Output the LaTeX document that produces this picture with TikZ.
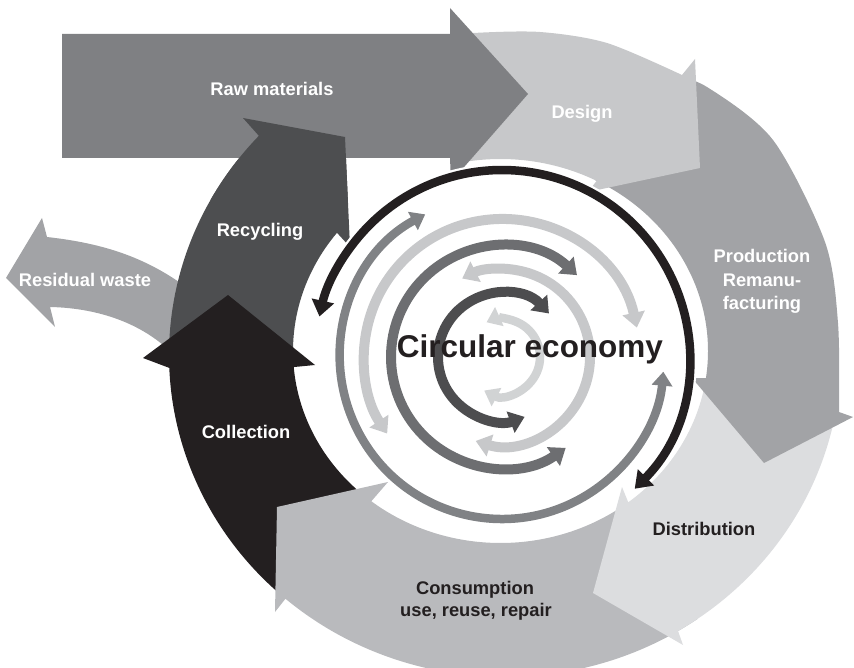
\documentclass[tikz,border=0pt]{standalone}
\usepackage{fontspec}
\setmainfont{Liberation Sans}
\usetikzlibrary{arrows.meta,calc}
\definecolor{cRaw}{HTML}{7F8083}
\definecolor{cDesign}{HTML}{C7C8CA}
\definecolor{cProd}{HTML}{A2A3A6}
\definecolor{cDist}{HTML}{DCDDDF}
\definecolor{cCons}{HTML}{B9BABD}
\definecolor{cColl}{HTML}{231F20}
\definecolor{cRecy}{HTML}{4D4E50}
\definecolor{cResid}{HTML}{A2A3A6}
\definecolor{cDark}{HTML}{231F20}
\definecolor{cA}{HTML}{D1D3D4}
\definecolor{cB}{HTML}{4D4D4F}
\definecolor{cC}{HTML}{C7C8CA}
\definecolor{cD}{HTML}{6D6E71}
\definecolor{cE}{HTML}{808285}
\begin{document}
\begin{tikzpicture}[x=1pt,y=-1pt,
  lbl/.style={font=\fontsize{18.3}{22}\selectfont\bfseries, text=white, inner sep=0pt, anchor=base},
  dlbl/.style={lbl, text=cDark},
  arcarrow/.style={line width=10pt, {Triangle[length=15pt,width=22pt]}-{Triangle[length=15pt,width=22pt]}},
  smallarcarrow/.style={line width=8.5pt, {Triangle[length=14pt,width=20pt]}-{Triangle[length=14pt,width=20pt]}}
]
\useasboundingbox (0,0) rectangle (854,668);
\coordinate (O) at (505,355);
\coordinate (I) at (500.5,351);
\coordinate (C) at (502,357);

% residual waste
\fill[cResid] (47,237) .. controls (100,243) and (150,256) .. (200,298) -- (188,372)
  .. controls (155,325) and (100,308) .. (50,307) -- (55,327) -- (6,278) -- (42,218) -- cycle;

% recycling
\fill[cRecy] ($(O)+(180:336 and 322)$) arc[start angle=180, end angle=222.9, x radius=336, y radius=322]
  -- (243,118) -- (345,137) -- (350,247)
  -- ($(I)+(218:207.5 and 192)$) arc[start angle=218, end angle=180, x radius=207.5, y radius=192] -- cycle;

% collection
\fill[cColl] ($(O)+(132:336 and 322)$) arc[start angle=132, end angle=177.7, x radius=336, y radius=322]
  -- (143,358) -- (228,295) -- (315,365)
  -- ($(I)+(175.2:207.5 and 192)$) arc[start angle=175.2, end angle=132, x radius=207.5, y radius=192] -- cycle;

% consumption
\fill[cCons] ($(O)+(55:336 and 322)$) arc[start angle=55, end angle=130.8, x radius=336, y radius=322]
  -- (275,612) -- (277,507) -- (388,482)
  -- ($(I)+(128.5:207.5 and 192)$) arc[start angle=128.5, end angle=55, x radius=207.5, y radius=192] -- cycle;

% distribution
\fill[cDist] ($(O)+(9:336 and 322)$) arc[start angle=9, end angle=59, x radius=336, y radius=322]
  -- (683,645) -- (593,593) -- (622,487)
  -- ($(I)+(52:207.5 and 192)$) arc[start angle=52, end angle=10, x radius=207.5, y radius=192] -- cycle;

% production
\fill[cProd] plot[smooth] coordinates {(665,72) (707,87) (773,140) (825,242) (838,323) (839,412)}
  -- (853,417) -- (764,463) -- (692,378)
  -- ($(I)+(8.1:207.5 and 192)$) arc[start angle=8.1, end angle=-63, x radius=207.5, y radius=192] -- cycle;

% design
\fill[cDesign] plot[smooth] coordinates {(440,37) (473,33) (540,32) (607,43) (682,75)}
  -- (695,59) -- (700,168) -- (588,192)
  -- ($(I)+(-62.4:207.5 and 192)$) arc[start angle=-62.4, end angle=-102, x radius=207.5, y radius=192] -- cycle;

% raw materials
\fill[cRaw] (62,34) -- (450,34) -- (450,8) -- (528,94) -- (451,182) -- (450,158) -- (62,158) -- cycle;

% recycling head over raw materials
\begin{scope}
\clip (0,0) rectangle (854,200);
\fill[cRecy] ($(O)+(180:336 and 322)$) arc[start angle=180, end angle=222.9, x radius=336, y radius=322]
  -- (243,118) -- (345,137) -- (350,247)
  -- ($(I)+(218:207.5 and 192)$) arc[start angle=218, end angle=180, x radius=207.5, y radius=192] -- cycle;
\end{scope}

% inner arcs
\draw[smallarcarrow, cA] ($(C)+(118:38)$) arc[start angle=118, end angle=-114, radius=38];
\draw[arcarrow, cB] ($(C)+(-42.8:64)$) arc[start angle=-42.8, end angle=-290.7, radius=64];
\draw[arcarrow, cC] ($(C)+(107.4:88)$) arc[start angle=107.4, end angle=-116.9, radius=88];
\draw[arcarrow, cD] ($(C)+(-47.5:111)$) arc[start angle=-47.5, end angle=-305, radius=111];
\draw[arcarrow, cC] ($(C)+(-12.3:138)$) arc[start angle=-12.3, end angle=-213.7, radius=138];
\draw[smallarcarrow, cE] ($(C)+(-118.3:162)$) arc[start angle=-118.3, end angle=-354.8, radius=162];

% black arc with white casing
\draw[white, line width=13pt, shorten <=14pt, shorten >=14pt] ($(C)+(44.8:187)$) arc[start angle=44.8, end angle=-167.5, radius=187];
\draw[cDark, line width=8.5pt, {Triangle[length=16pt,width=22pt]}-{Triangle[length=16pt,width=22pt]}] ($(C)+(44.8:187)$) arc[start angle=44.8, end angle=-167.5, radius=187];

% labels
\node[lbl] (traw) at (272,95.5) {Raw materials};
\node[lbl] (tdesign) at (582,118.3) {Design};
\node[lbl] (trecy) at (260,236.5) {Recycling};
\node[lbl] (tresid) at (85,286.7) {Residual waste};
\node[lbl] (tcoll) at (246,438) {Collection};
\node[lbl] (tprod1) at (762,263) {Production};
\node[lbl] (tprod2) at (762,286.5) {Remanu-};
\node[lbl] (tprod3) at (762,309.7) {facturing};
\node[dlbl] (tdist) at (704,535) {Distribution};
\node[dlbl] (tcons1) at (475,594.8) {Consumption};
\node[dlbl] (tcons2) at (476,616) {use, reuse, repair};
\node[dlbl, font=\fontsize{31.5}{36}\selectfont\bfseries] (tce) at (530,357.6) {Circular economy};
\end{tikzpicture}
\end{document}
